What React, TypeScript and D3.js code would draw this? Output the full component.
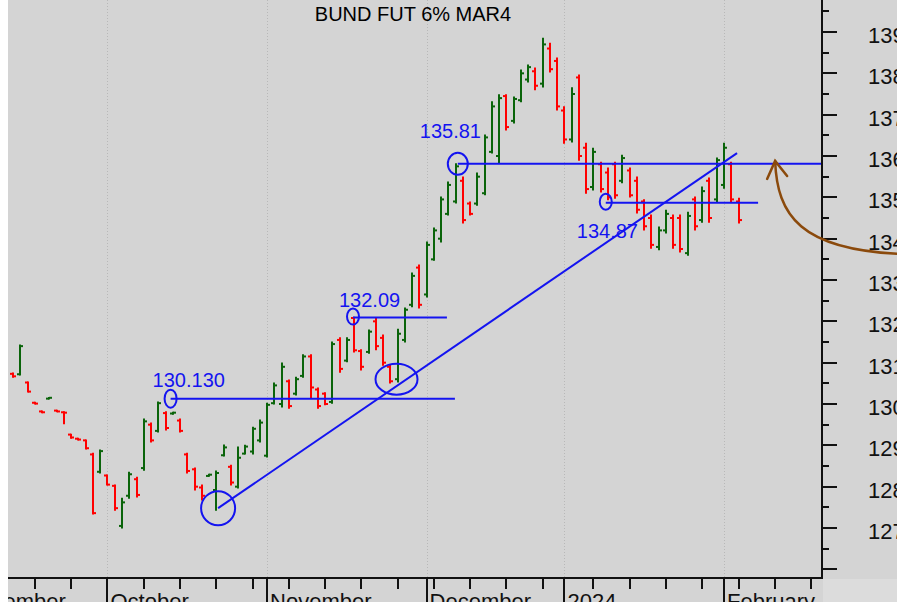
import React from "react";
import * as d3 from "d3";

const TITLE = "BUND FUT 6% MAR4";

// Daily OHLC, first bar 2023-09-13, last bar 2024-02-05
const OPEN = [
  130.73,130.72,130.52,130.03,129.82,130.13,129.84,129.80,129.26,129.16,
  129.12,128.78,128.36,128.27,128.02,127.05,127.78,128.18,128.45,129.50,
  129.35,129.78,129.77,129.60,128.78,128.42,127.98,128.26,127.92,128.76,
  128.48,128.00,128.80,128.85,129.12,128.75,130.02,130.00,130.55,130.25,
  130.68,131.15,130.35,130.25,130.05,131.55,131.05,132.08,131.28,131.26,
  132.00,131.60,130.90,130.60,131.55,132.40,133.30,132.65,133.50,134.00,
  134.60,134.90,135.40,134.85,134.85,135.10,136.10,136.00,137.45,136.85,
  137.35,137.85,138.05,137.75,138.60,138.30,137.10,136.40,137.90,136.20,
  135.25,135.80,135.60,135.80,135.40,135.65,135.40,134.90,134.50,133.80,
  134.20,134.50,134.50,133.65,134.95,134.45,135.40,134.95,135.30,135.80,
  134.90,
];
const HIGH = [
  130.75,131.43,130.53,130.04,129.83,130.16,129.85,129.81,129.27,129.17,
  129.13,128.81,128.89,128.28,128.04,127.72,128.35,128.23,129.64,129.54,
  130.05,129.81,129.80,129.64,128.81,128.45,128.04,128.30,128.38,129.01,
  128.52,128.96,129.00,129.44,129.61,130.02,130.51,130.99,130.58,130.65,
  131.19,131.19,130.39,130.27,131.50,131.60,131.60,132.10,131.31,131.79,
  132.08,131.67,130.94,131.81,132.32,133.17,133.36,133.92,134.26,135.01,
  135.37,135.81,135.49,134.89,135.59,136.51,137.31,137.48,137.48,137.43,
  138.08,138.20,138.13,138.85,138.73,138.37,137.19,137.65,137.96,136.31,
  136.19,135.85,135.71,135.85,136.02,135.71,135.49,134.94,134.57,134.28,
  134.69,134.57,134.57,134.64,135.01,135.25,135.47,135.95,136.31,135.85,
  134.98,
];
const LOW = [
  130.65,130.70,130.29,130.00,129.79,130.12,129.81,129.52,129.17,129.13,
  128.91,127.34,128.33,128.04,127.43,127.00,127.72,127.75,128.40,129.08,
  129.32,129.37,129.75,129.32,128.33,127.92,127.68,128.25,127.43,128.74,
  128.04,127.97,128.79,128.79,129.08,128.72,130.00,129.93,129.90,130.22,
  130.65,130.14,129.90,129.98,130.02,130.77,131.02,131.26,130.82,131.23,
  131.31,130.94,130.51,130.53,131.50,132.35,132.32,132.59,133.48,133.92,
  134.57,134.86,134.38,134.57,134.81,135.06,136.07,135.83,136.63,136.80,
  137.31,137.79,137.60,137.67,138.03,137.11,136.31,136.34,135.90,135.10,
  135.18,135.13,134.94,134.98,135.35,135.01,134.62,134.21,133.77,133.73,
  134.14,133.77,133.68,133.60,134.21,134.40,134.40,134.89,135.22,134.89,
  134.38,
];
const CLOSE = [
  130.67,131.40,130.30,130.01,129.80,130.15,129.82,129.79,129.19,129.14,
  128.93,127.36,128.86,128.05,127.48,127.62,128.30,127.80,129.58,129.12,
  130.02,129.42,129.79,129.35,128.38,128.00,127.78,128.29,128.33,128.95,
  128.10,128.70,128.97,129.40,129.55,129.98,130.45,130.90,129.95,130.60,
  131.15,130.40,129.95,130.00,131.45,130.85,131.55,131.30,130.90,131.75,
  131.40,131.00,130.55,131.70,132.28,133.10,132.40,133.85,134.20,134.95,
  135.30,135.75,134.45,134.60,135.50,136.45,137.20,137.40,136.70,137.38,
  138.00,138.15,137.70,138.70,138.10,137.20,136.40,137.50,136.00,135.20,
  136.10,135.20,135.00,135.05,135.95,135.05,134.70,134.30,133.85,134.20,
  134.60,133.85,133.75,134.55,134.30,135.15,134.50,135.90,136.20,134.95,
  134.45,
];

const FIRST_BAR = "2023-09-13";
const HOLIDAYS = ["2023-12-25", "2023-12-26", "2024-01-01"];
const MONTH_LABELS = ["September", "October", "November", "December", "2024", "February"];
const Y_TICK_VALUES = [126, 127, 128, 129, 130, 131, 132, 133, 134, 135, 136, 137, 138, 139];
const Y_TICK_LABELS = ["", "127", "128", "129", "130", "131", "132", "133", "134", "135", "136", "137", "138", "139"];

// Horizontal levels: label, price, start bar, end bar
const LEVEL_LABELS = ["130.130", "132.09", "135.81", "134.87"];
const LEVEL_VALUES = [130.13, 132.09, 135.81, 134.87];
const LEVEL_FROM = [21.7, 46.85, 61.3, 81.7];
const LEVEL_TO = [60.9, 59.8, 111.5, 102.7];
// Trend line: bar/price of the two ends
const TREND_FROM = [28.25, 127.48];
const TREND_TO = [99.8, 136.07];
const CONTACT = [52.85, 130.6];
const ARROW_TIP = [105.05, 135.88];

function makeDays() {
  const hol = new Set(HOLIDAYS);
  const out: string[] = [];
  let t = Date.UTC(2023, 8, 1);
  const end = Date.UTC(2024, 1, 23);
  while (t <= end) {
    const d = new Date(t);
    const wd = d.getUTCDay();
    const iso = d.toISOString().slice(0, 10);
    if (wd !== 0 && wd !== 6 && !hol.has(iso)) out.push(iso);
    t += 86400000;
  }
  return out;
}

const W = 897;
const H = 602;
const LEFT = 8;
const RIGHT = 822;
const BOTTOM = 578;
const GREEN = "#0a640a";
const RED = "#ff0000";
const BLUE = "#1414f0";
const FONT = "'Liberation Sans', Arial, sans-serif";

export default function App() {
  const days = makeDays();
  const offset = days.indexOf(FIRST_BAR);
  const x = d3.scaleLinear().domain([0, 100]).range([13.2, 738.5]);
  const y = d3.scaleLinear().domain([127, 139]).range([528, 32]);

  const monthTicks: { px: number; label: string }[] = [];
  const weekTicks: number[] = [];
  let mi = 0;
  days.forEach((iso, k) => {
    const px = x(k - offset);
    const d = new Date(iso + "T00:00:00Z");
    if (k === 0 || iso.slice(0, 7) !== days[k - 1].slice(0, 7)) {
      monthTicks.push({ px, label: MONTH_LABELS[mi++] });
    } else {
      const p = new Date(days[k - 1] + "T00:00:00Z");
      const gap = (d.getTime() - p.getTime()) / 86400000;
      if (d.getUTCDay() <= p.getUTCDay() || gap >= 7) weekTicks.push(px);
    }
  });

  const minor = Y_TICK_VALUES.map((v) => v + 0.5);
  const trendPath = `M${x(TREND_FROM[0])},${y(TREND_FROM[1])}L${x(TREND_TO[0])},${y(TREND_TO[1])}`;
  const tipX = x(ARROW_TIP[0]);
  const tipY = y(ARROW_TIP[1]);

  return (
    <svg width={W} height={H} style={{ position: "absolute", left: 0, top: 0, display: "block" }}>
      <defs>
        <clipPath id="plotClip">
          <rect x={LEFT} y={0} width={RIGHT - LEFT} height={BOTTOM} />
        </clipPath>
        <clipPath id="axisClip">
          <rect x={LEFT} y={BOTTOM} width={RIGHT - LEFT} height={H - BOTTOM} />
        </clipPath>
      </defs>
      <rect x={0} y={0} width={W} height={H} fill="#ffffff" />
      <rect x={LEFT} y={0} width={W - LEFT} height={H} fill="#d4d4d4" />
      <rect x={RIGHT + 1} y={BOTTOM + 1} width={W - RIGHT} height={H - BOTTOM} fill="#dcdcdc" />

      {/* month grid lines */}
      {monthTicks
        .filter((m) => m.px > LEFT && m.px < RIGHT)
        .map((m, i) => (
          <line key={"g" + i} x1={Math.round(m.px) + 0.5} x2={Math.round(m.px) + 0.5} y1={0} y2={BOTTOM}
            stroke="#b8b8b8" strokeWidth={1} strokeDasharray="1,2" />
        ))}

      <text x={413} y={21} textAnchor="middle" fontFamily={FONT} fontSize={20} fill="#000">{TITLE}</text>

      {/* OHLC bars */}
      <g clipPath="url(#plotClip)">
        {OPEN.map((o, i) => {
          const cx = Math.round(x(i));
          const c = CLOSE[i];
          const col = c >= o ? GREEN : RED;
          const yh = y(HIGH[i]);
          const yl = y(LOW[i]);
          const top = Math.min(yh, yl - 1.5);
          return (
            <g key={i} stroke={col} strokeWidth={2}>
              <line x1={cx} x2={cx} y1={top - 0.5} y2={yl + 0.5} />
              <line x1={cx - 3} x2={cx} y1={y(o)} y2={y(o)} />
              <line x1={cx} x2={cx + 3} y1={y(c)} y2={y(c)} />
            </g>
          );
        })}
      </g>

      {/* annotations */}
      <g fill="none" stroke={BLUE} strokeWidth={2}>
        {LEVEL_VALUES.map((v, i) => (
          <line key={"l" + i} x1={x(LEVEL_FROM[i])} x2={Math.min(x(LEVEL_TO[i]), RIGHT)} y1={y(v)} y2={y(v)} />
        ))}
        <path d={trendPath} />
        <ellipse cx={x(LEVEL_FROM[0])} cy={y(LEVEL_VALUES[0])} rx={6} ry={9} />
        <ellipse cx={x(LEVEL_FROM[1])} cy={y(LEVEL_VALUES[1]) - 1} rx={6} ry={8} />
        <ellipse cx={x(LEVEL_FROM[2])} cy={y(LEVEL_VALUES[2])} rx={10} ry={11} />
        <ellipse cx={x(LEVEL_FROM[3])} cy={y(LEVEL_VALUES[3]) - 1} rx={6} ry={8} />
        <circle cx={x(TREND_FROM[0])} cy={y(TREND_FROM[1])} r={17} />
        <ellipse cx={x(CONTACT[0])} cy={y(CONTACT[1])} rx={21} ry={15.5} />
      </g>
      <g fontFamily={FONT} fontSize={20} fill={BLUE}>
        <text x={x(LEVEL_FROM[0]) - 18} y={y(LEVEL_VALUES[0]) - 12}>{LEVEL_LABELS[0]}</text>
        <text x={x(LEVEL_FROM[1]) - 14} y={y(LEVEL_VALUES[1]) - 11}>{LEVEL_LABELS[1]}</text>
        <text x={x(LEVEL_FROM[2]) - 38} y={y(LEVEL_VALUES[2]) - 26}>{LEVEL_LABELS[2]}</text>
        <text x={x(LEVEL_FROM[3]) - 29} y={y(LEVEL_VALUES[3]) + 35}>{LEVEL_LABELS[3]}</text>
      </g>

      {/* right axis */}
      <line x1={RIGHT} x2={RIGHT} y1={0} y2={BOTTOM} stroke="#111" strokeWidth={2} />
      {Y_TICK_VALUES.map((v, i) => (
        <g key={"y" + i}>
          <line x1={RIGHT} x2={RIGHT + 15} y1={Math.round(y(v))} y2={Math.round(y(v))} stroke="#111" strokeWidth={2} />
          <text x={868} y={y(v) + 11} fontFamily={FONT} fontSize={22} fill="#111">{Y_TICK_LABELS[i]}</text>
        </g>
      ))}
      {minor.map((v, i) => (
        <line key={"ym" + i} x1={RIGHT} x2={RIGHT + 7} y1={Math.round(y(v))} y2={Math.round(y(v))} stroke="#111" strokeWidth={2} />
      ))}

      {/* bottom axis */}
      <line x1={LEFT} x2={RIGHT + 1} y1={BOTTOM} y2={BOTTOM} stroke="#111" strokeWidth={2} />
      <g clipPath="url(#axisClip)">
        {weekTicks.map((px, i) => (
          <line key={"w" + i} x1={Math.round(px)} x2={Math.round(px)} y1={BOTTOM} y2={BOTTOM + 11} stroke="#111" strokeWidth={2} />
        ))}
        {monthTicks.map((m, i) => (
          <g key={"m" + i}>
            <line x1={Math.round(m.px)} x2={Math.round(m.px)} y1={BOTTOM} y2={H} stroke="#111" strokeWidth={2} />
            <text x={m.px + 3} y={609} fontFamily={FONT} fontSize={22} fill="#111">{m.label}</text>
          </g>
        ))}
      </g>

      {/* brown arrow */}
      <g fill="none" stroke="#8b4a0c" strokeWidth={2.5} strokeLinecap="round">
        <path d={`M${tipX},${tipY}C${tipX + 2},${tipY + 54} ${tipX + 25},${tipY + 89} ${W + 5},${tipY + 93}`} />
        <path d={`M${tipX - 8},${tipY + 18}L${tipX},${tipY}L${tipX + 12},${tipY + 15}`} />
      </g>
    </svg>
  );
}
